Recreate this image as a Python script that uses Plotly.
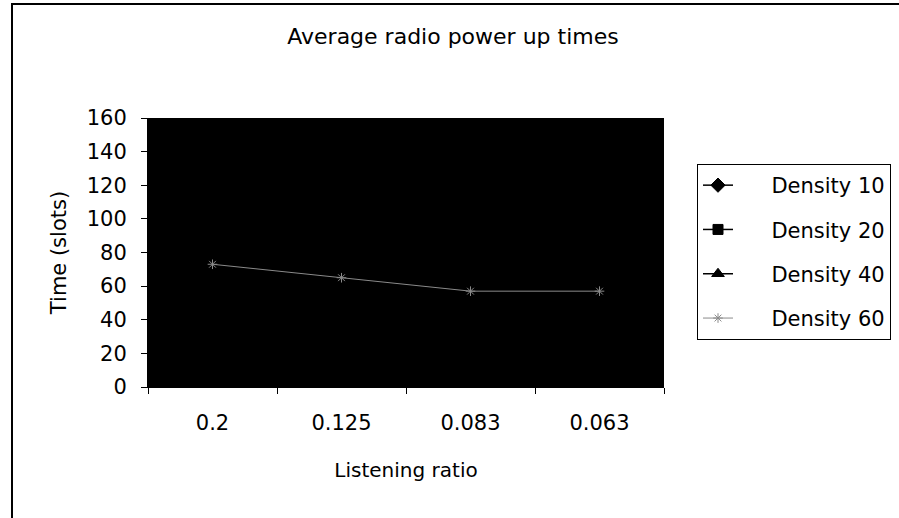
import plotly.graph_objects as go

categories = ["0.2", "0.125", "0.083", "0.063"]
density_10 = [70, 62, 55, 54]
density_20 = [72, 63, 56, 55]
density_40 = [73, 64, 57, 56]
density_60 = [73, 65, 57, 57]
y_ticks = [0, 20, 40, 60, 80, 100, 120, 140, 160]
series_names = ["Density 10", "Density 20", "Density 40", "Density 60"]

FONT = "DejaVu Sans, Arial, sans-serif"
PAD = "\u00a0" * 5

fig = go.Figure()
styles = [
    (density_10, "diamond", "black", 1.5, 11),
    (density_20, "square", "black", 1.5, 10),
    (density_40, "triangle-up", "black", 1.5, 11),
    (density_60, "asterisk-open", "#8a8a8a", 1, 8),
]
for name, (vals, sym, col, w, ms) in zip(series_names, styles):
    fig.add_trace(go.Scatter(
        x=categories, y=vals, name=PAD + name, mode="lines+markers",
        line=dict(color=col, width=w),
        marker=dict(symbol=sym, color=col, size=ms, line=dict(color=col, width=1)),
        legendgroup=name,
    ))

L, R, T, B = 148, 664, 118, 387
W, H = 899, 518
pw, ph = R - L, B - T

def px(x):
    return (x - L) / pw

def py(y):
    return (B - y) / ph

fig.update_layout(
    width=W, height=H,
    margin=dict(l=L, r=W - R, t=T, b=H - B, autoexpand=False),
    paper_bgcolor="white", plot_bgcolor="black",
    font=dict(family=FONT, size=21, color="black"),
    title=dict(text="Average radio power up times", x=px(453), xref="paper",
               xanchor="center", y=1 - 36 / H, yanchor="middle", font=dict(size=22)),
    showlegend=True,
    legend=dict(
        x=px(697), y=py(164), xanchor="left", yanchor="top",
        bordercolor="black", borderwidth=1, bgcolor="white",
        traceorder="grouped", tracegroupgap=14,
        font=dict(size=21),
    ),
    xaxis=dict(
        type="category", showgrid=False, zeroline=False,
        showline=True, linecolor="black", linewidth=1,
        ticks="outside", ticklen=6, tickcolor="black", tickson="boundaries",
        ticklabelstandoff=17,
        title=dict(text="Listening ratio", font=dict(size=20), standoff=28),
        range=[-0.5, 3.5],
    ),
    yaxis=dict(
        range=[0, 160], tickvals=y_ticks, showgrid=False, zeroline=False,
        showline=True, linecolor="black", linewidth=1,
        ticks="outside", ticklen=6, tickcolor="black",
        ticklabelstandoff=10,
        title=dict(text="Time (slots)", font=dict(size=21), standoff=14),
    ),
)

# outer chart frame
fig.add_shape(type="rect", xref="paper", yref="paper",
              x0=px(12), x1=px(905), y0=py(530), y1=py(4),
              line=dict(color="black", width=2), fillcolor="rgba(0,0,0,0)", layer="below")

fig.write_html("out.html")
